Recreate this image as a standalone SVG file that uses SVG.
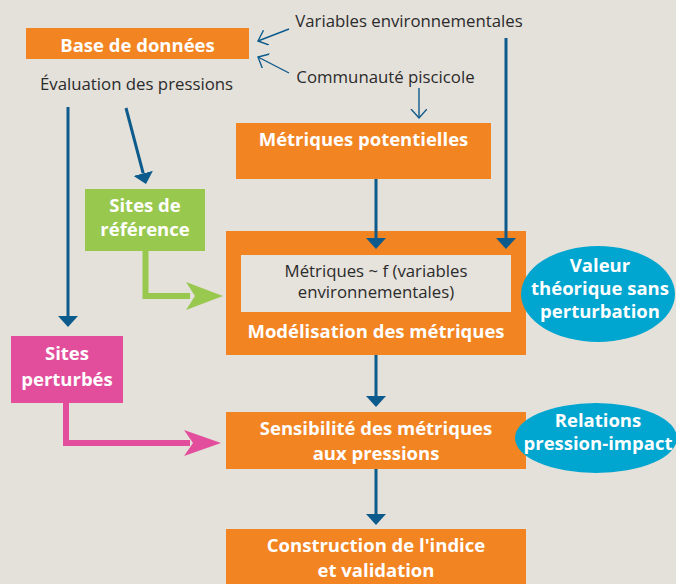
<svg xmlns="http://www.w3.org/2000/svg" width="676" height="584" viewBox="0 0 676 584">
<defs>
<style>
.bg{fill:#e4e0da}
.or{fill:#f28422}
.t{font-family:"Open Sans","Noto Sans",sans-serif;fill:#2b2b2b;font-size:16.8px}
.b{font-family:"Open Sans","Noto Sans",sans-serif;fill:#ffffff;font-weight:bold;font-size:18.5px;text-anchor:middle}
.bl{stroke:#0d5b8c;stroke-width:3;fill:none}
.th{stroke:#0d5b8c;stroke-width:1.4;fill:none}
</style>
<marker id="ah" markerUnits="userSpaceOnUse" markerWidth="12" markerHeight="20" refX="0" refY="10" orient="auto">
<path d="M0,0 L11,10 L0,20 z" fill="#0d5b8c"/>
</marker>
<marker id="ao" markerUnits="userSpaceOnUse" markerWidth="12" markerHeight="18" refX="9" refY="8" orient="auto">
<path d="M0,0 L9,8 L0,16" fill="none" stroke="#0d5b8c" stroke-width="1.4"/>
</marker>
</defs>
<rect class="bg" x="0" y="0" width="676" height="584"/>

<g id="base-donnees">
<rect class="or" x="26" y="28" width="223" height="31"/>
<text class="b" x="137.5" y="52">Base de données</text>
</g>
<g id="evaluation-pressions">
<text class="t" x="136.5" y="90" text-anchor="middle">Évaluation des pressions</text>
</g>
<g id="variables-env">
<text class="t" x="409" y="27" text-anchor="middle">Variables environnementales</text>
</g>
<g id="communaute">
<text class="t" x="385.5" y="83" text-anchor="middle">Communauté piscicole</text>
</g>
<g id="metriques-potentielles">
<rect class="or" x="236" y="123" width="255" height="56"/>
<text class="b" x="363.5" y="146">Métriques potentielles</text>
</g>
<g id="sites-reference">
<rect x="85" y="189" width="120" height="62" fill="#98c94e"/>
<text class="b" x="145" y="212">Sites de</text>
<text class="b" x="145" y="236">référence</text>
</g>
<g id="modelisation">
<rect class="or" x="226" y="231" width="300" height="124"/>
<rect x="241" y="255" width="270" height="57" fill="#e6e2dc"/>
<text class="t" x="376" y="277" text-anchor="middle" font-size="16">Métriques ~ f (variables</text>
<text class="t" x="376" y="298" text-anchor="middle" font-size="16">environnementales)</text>
<text class="b" x="376" y="338">Modélisation des métriques</text>
</g>
<g id="valeur-theorique">
<ellipse cx="598" cy="294" rx="77" ry="48" fill="#00a6d0"/>
<text class="b" x="600" y="272">Valeur</text>
<text class="b" x="600" y="295">théorique sans</text>
<text class="b" x="600" y="318">perturbation</text>
</g>
<g id="sites-perturbes">
<rect x="11" y="336" width="112" height="67" fill="#e24e9b"/>
<text class="b" x="67" y="360">Sites</text>
<text class="b" x="67" y="386">perturbés</text>
</g>
<g id="sensibilite">
<rect class="or" x="226" y="412" width="300" height="57"/>
<text class="b" x="376" y="435">Sensibilité des métriques</text>
<text class="b" x="376" y="460">aux pressions</text>
</g>
<g id="relations">
<ellipse cx="596" cy="438" rx="81" ry="35" fill="#00a6d0"/>
<text class="b" x="598" y="427">Relations</text>
<text class="b" x="598" y="450">pression-impact</text>
</g>
<g id="construction">
<rect class="or" x="226" y="529" width="300" height="60"/>
<text class="b" x="376" y="552">Construction de l'indice</text>
<text class="b" x="376" y="577">et validation</text>
</g>

<g id="connectors">
<line class="th" x1="289" y1="29" x2="258" y2="41" marker-end="url(#ao)"/>
<line class="th" x1="289" y1="73" x2="258" y2="57" marker-end="url(#ao)"/>
<line class="th" x1="419" y1="88" x2="419" y2="118" marker-end="url(#ao)"/>
<line class="bl" x1="68" y1="107" x2="68" y2="316" marker-end="url(#ah)"/>
<line class="bl" x1="126" y1="108" x2="143.2" y2="173.4" marker-end="url(#ah)"/>
<line class="bl" x1="376" y1="179" x2="376" y2="238" marker-end="url(#ah)"/>
<line class="bl" x1="506" y1="38" x2="506" y2="238" marker-end="url(#ah)"/>
<line class="bl" x1="376" y1="355" x2="376" y2="396" marker-end="url(#ah)"/>
<line class="bl" x1="376" y1="469" x2="376" y2="514" marker-end="url(#ah)"/>
<path d="M145.5,251 V296 H190" stroke="#98c94e" stroke-width="6" fill="none"/>
<polygon points="223,296 186,282 195,296 186,310" fill="#98c94e"/>
<path d="M66,403 V443 H190" stroke="#e24e9b" stroke-width="6" fill="none"/>
<polygon points="221,443 184,430 193,443 184,456" fill="#e24e9b"/>
</g>
</svg>
